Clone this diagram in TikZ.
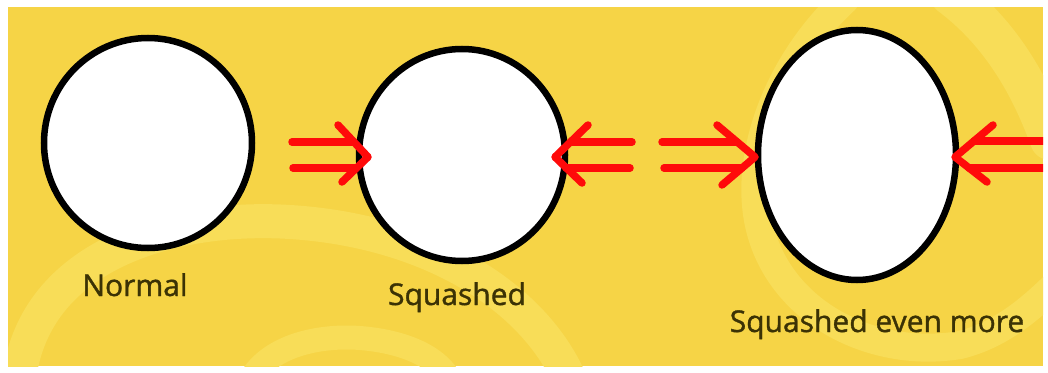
\documentclass[tikz,border=0pt]{standalone}
\usepackage{fontspec}
\setmainfont{Open Sans}
\newfontfamily\lblfont[FakeBold=1.2]{Open Sans}
\usetikzlibrary{shapes.geometric}
\definecolor{bg}{HTML}{F6D446}
\definecolor{swirl}{HTML}{F8DD58}
\definecolor{txt}{HTML}{3B3205}
\definecolor{arrowred}{HTML}{FF0A0A}
\begin{document}
\begin{tikzpicture}[x=1pt,y=-1pt,
  body/.style={draw=black,line width=6.5pt,fill=white,ellipse,inner sep=0pt},
  push/.style={draw=arrowred,line width=7.5pt,line cap=round,line join=round},
  lbl/.style={font=\lblfont\fontsize{30}{30}\selectfont,text=txt,anchor=base,inner sep=0pt},
  band/.style={draw=swirl,line cap=round}]
\useasboundingbox (0,0) rectangle (1048,372);
\fill[white] (0,0) rectangle (1048,372);
\begin{scope}
  \clip (8,7) rectangle (1043,366);
  \fill[bg] (8,7) rectangle (1043,366);
  % background swirls
  \draw[band,line width=34pt] (20,372) .. controls (40,250) and (180,215) .. (290,222) .. controls (420,230) and (530,290) .. (570,380);
  \draw[band,line width=24pt] (250,380) .. controls (270,345) and (320,335) .. (360,338) .. controls (410,342) and (440,360) .. (450,380);
  \draw[band,line width=28pt] (845,0) .. controls (780,60) and (745,150) .. (758,220) .. controls (775,310) and (870,360) .. (960,345) .. controls (1000,335) and (1030,310) .. (1060,280);
  \draw[band,line width=40pt] (950,-5) .. controls (990,25) and (1025,70) .. (1050,140);
\end{scope}

% bodies
\node[body,minimum width=208pt,minimum height=210pt] (c1) at (148,143) {};
\node[body,minimum width=206pt,minimum height=212pt] (c2) at (462,155) {};
\node[body,minimum width=198pt,minimum height=250pt] (c3) at (857,155) {};

% labels
\node[lbl] (l1) at (135,296) {Normal};
\node[lbl] (l2) at (457,305) {Squashed};
\node[lbl] (l3) at (877,332) {Squashed even more};

% arrow tips
\coordinate (t1) at (368,157);
\coordinate (t2) at (555,157);
\coordinate (t3) at (755,157);
\coordinate (t4) at (955,157);

% pair 1: pushing right into c2
\draw[push] (338,125) -- (t1) -- (342,182);
\draw[push] (292,142) -- (354,142);
\draw[push] (293,168) -- (356,168);
% pair 2: pushing left into c2
\draw[push] (588,125) -- (t2) -- (582,183);
\draw[push] (632,142) -- (571,142);
\draw[push] (630,168) -- (566,168);
% pair 3: pushing right into c3
\draw[push] (717,125) -- (t3) -- (722,185);
\draw[push] (662,142) -- (737,142);
\draw[push] (664,168) -- (742,168);
% pair 4: pushing left into c3
\begin{scope}
  \clip (8,7) rectangle (1043,366);
  \draw[push] (993,125) -- (t4) -- (987,182);
  \draw[push] (1060,141) -- (974,141);
  \draw[push] (1060,168) -- (969,168);
\end{scope}
\end{tikzpicture}
\end{document}
